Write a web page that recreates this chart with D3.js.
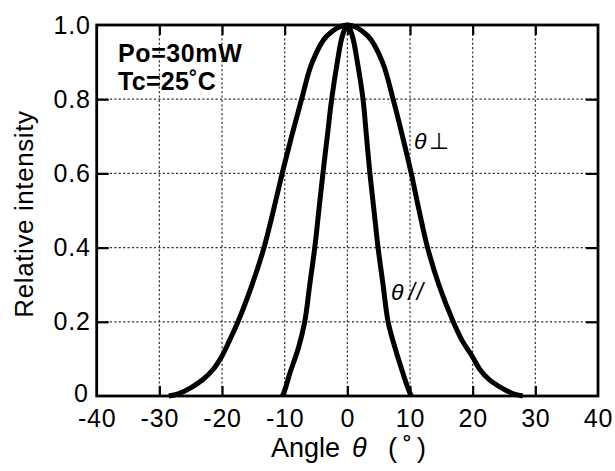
<!DOCTYPE html>
<html><head><meta charset="utf-8">
<script src="https://cdn.jsdelivr.net/npm/d3@7"></script>
<style>
html,body{margin:0;padding:0;background:#fff;}
svg{display:block;}
text{font-family:"Liberation Sans",Arial,Helvetica,sans-serif;fill:#000;}
</style></head>
<body>
<svg id="chart" width="615" height="471"></svg>
<script>
// ---- data ----
const xTicks = [-40,-30,-20,-10,0,10,20,30,40];
const xTickLabels = ["-40","-30","-20","-10","0","10","20","30","40"];
const yTicks = [0,0.2,0.4,0.6,0.8,1.0];
const yTickLabels = ["0","0.2","0.4","0.6","0.8","1.0"];
// θ⊥ (perpendicular) – wide beam
const perpAngle = [-28.5,-27,-25,-23,-21.5,-20,-18.8,-17.45,-15.2,-13.3,-11.8,-10.4,-8.9,-7.3,-5.6,-3.3,0,3.3,5.6,7.3,8.8,10.2,11.45,12.8,14.6,16.9,18.3,19.9,21.2,22.6,24.6,26.5,28];
const perpValue = [0,0.006,0.022,0.045,0.07,0.108,0.15,0.2,0.3,0.4,0.5,0.6,0.7,0.8,0.9,0.97,1.0,0.97,0.9,0.8,0.7,0.6,0.5,0.4,0.3,0.2,0.15,0.108,0.07,0.045,0.022,0.006,0];
// θ// (parallel) – narrow beam
const parAngle = [-10.35,-9.9,-9.2,-7.8,-6.8,-6.0,-5.2,-4.55,-3.9,-3.2,-2.5,-1.6,-0.8,0,0.8,1.6,2.5,3.05,3.6,4.25,4.9,5.7,6.5,7.6,8.9,9.7,10.2];
const parValue = [0,0.02,0.06,0.13,0.2,0.3,0.4,0.5,0.6,0.7,0.8,0.9,0.97,1.0,0.97,0.9,0.8,0.7,0.6,0.5,0.4,0.3,0.2,0.13,0.06,0.02,0];

const svg = d3.select("#chart");
const L = 96.7, R = 598, T = 25, B = 396;
const x = d3.scaleLinear().domain([-40,40]).range([L,R]);
const y = d3.scaleLinear().domain([0,1]).range([B,T]);

// grid
const grid = svg.append("g").attr("stroke","#333").attr("stroke-width",1.2).attr("stroke-dasharray","2.2,2.2");
grid.selectAll("line.gx").data(xTicks.slice(1,-1)).join("line")
  .attr("x1",d=>x(d)).attr("x2",d=>x(d)).attr("y1",T).attr("y2",B);
grid.selectAll("line.gy").data(yTicks.slice(1,-1)).join("line")
  .attr("y1",d=>y(d)).attr("y2",d=>y(d)).attr("x1",L).attr("x2",R);

// axes: labels + inner ticks
const xAxis = d3.axisBottom(x).tickValues(xTicks).tickSize(-10).tickPadding(13).tickFormat((d,i)=>xTickLabels[i]);
const gx = svg.append("g").attr("transform",`translate(0,${B})`).call(xAxis);
const xTop = d3.axisTop(x).tickValues(xTicks.slice(1,-1)).tickSize(-10).tickFormat("");
const gxt = svg.append("g").attr("transform",`translate(0,${T})`).call(xTop);
const yAxis = d3.axisLeft(y).tickValues(yTicks).tickSize(-12).tickPadding(6).tickFormat((d,i)=>yTickLabels[i]);
const gy = svg.append("g").attr("transform",`translate(${L},0)`).call(yAxis);
const yRight = d3.axisRight(y).tickValues(yTicks.slice(1,-1)).tickSize(-12).tickFormat("");
const gyr = svg.append("g").attr("transform",`translate(${R},0)`).call(yRight);
[gx,gxt,gy,gyr].forEach(g=>{
  g.select(".domain").remove();
  g.selectAll(".tick line").attr("stroke","#000").attr("stroke-width",2.2);
  g.selectAll("text").attr("font-size","25px").attr("font-family",null).attr("fill","#000").attr("letter-spacing","0.8px");
});
gx.selectAll(".tick").filter(d=>d===-40||d===40).select("line").remove();
gy.selectAll(".tick").filter(d=>d===0||d===1).select("line").remove();
gy.selectAll(".tick").filter(d=>d===0).select("text").attr("dy","0.2em").attr("x",-8);

// frame
svg.append("rect").attr("x",L).attr("y",T).attr("width",R-L).attr("height",B-T)
  .attr("fill","none").attr("stroke","#000").attr("stroke-width",2.8);

// curves
const line = d3.line().x(d=>x(d[0])).y(d=>y(d[1])).curve(d3.curveCatmullRom.alpha(0.5));
svg.append("path").datum(perpAngle.map((a,i)=>[a,perpValue[i]]))
  .attr("d",line).attr("fill","none").attr("stroke","#000").attr("stroke-width",5);
svg.append("path").datum(parAngle.map((a,i)=>[a,parValue[i]]))
  .attr("d",line).attr("fill","none").attr("stroke","#000").attr("stroke-width",5);

// annotations
svg.append("text").attr("x",118).attr("y",62).attr("font-size","25px").attr("font-weight","bold").attr("letter-spacing","0.6px").text("Po=30mW");
svg.append("text").attr("x",118).attr("y",90).attr("font-size","25px").attr("font-weight","bold").attr("letter-spacing","0.3px").text("Tc=25˚C");

const t1 = svg.append("text").attr("x",414).attr("y",149).attr("font-size","23px");
t1.append("tspan").attr("font-style","italic").text("θ");
t1.append("tspan").attr("dx",3).text("⊥");
const t2 = svg.append("text").attr("x",391).attr("y",300).attr("font-size","23px").attr("font-style","italic");
t2.append("tspan").text("θ");
t2.append("tspan").attr("dx",5).attr("letter-spacing","2px").text("//");

// axis titles
svg.append("text").attr("transform","translate(33,214) rotate(-90)").attr("text-anchor","middle")
  .attr("font-size","26px").attr("letter-spacing","0.6px").text("Relative intensity");
const xt = svg.append("text").attr("y",457).attr("font-size","27px");
xt.append("tspan").attr("x",271).text("Angle");
xt.append("tspan").attr("x",352).attr("font-style","italic").text("θ");
xt.append("tspan").attr("x",388).text("(");
xt.append("tspan").attr("x",403).text("˚");
xt.append("tspan").attr("x",417).text(")");
</script>
</body></html>
